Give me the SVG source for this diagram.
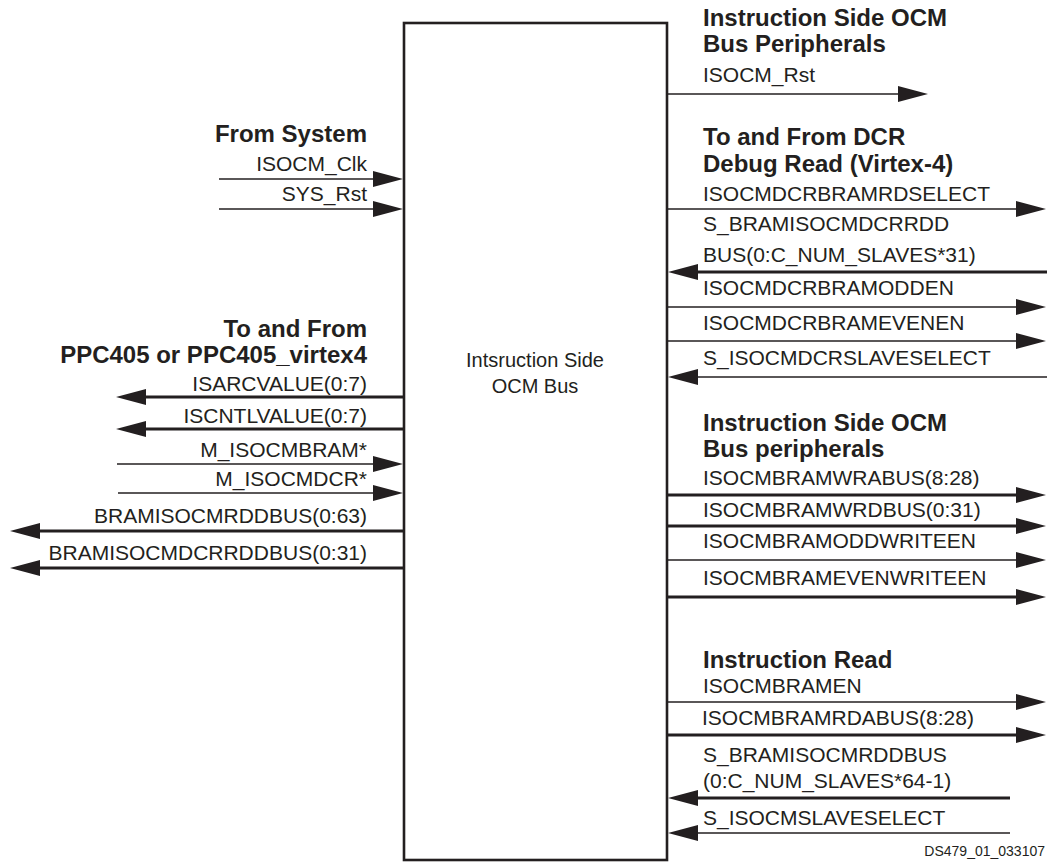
<svg xmlns="http://www.w3.org/2000/svg" width="1047" height="865" viewBox="0 0 1047 865">
<style>
text{font-family:"Liberation Sans",Arial,sans-serif;fill:#231f20}
.h{font-size:24px;font-weight:bold}
.l{font-size:21px}
.le{font-size:21px;text-anchor:end}
.c{font-size:20px;text-anchor:middle}
.s{font-size:14px;text-anchor:end}
.thin{stroke:#231f20;stroke-width:1.6;fill:none;marker-end:url(#ah)}
.thick{stroke:#231f20;stroke-width:3.2;fill:none;marker-end:url(#ah)}
</style>
<defs>
<marker id="ah" markerUnits="userSpaceOnUse" markerWidth="30" markerHeight="16" viewBox="0 0 30 16" refX="20" refY="8" orient="auto">
<path d="M0,0 L30,8 L0,16 z" fill="#231f20"/>
</marker>
</defs>
<rect width="1047" height="865" fill="#fff"/>
<g id="ocm-bus">
<rect x="404" y="23" width="263" height="837" fill="#fff" stroke="#231f20" stroke-width="2.6"/>
<text class="c" x="535" y="367">Intsruction Side</text>
<text class="c" x="535" y="393">OCM Bus</text>
</g>
<g id="from-system">
<text class="h" x="367" y="142" text-anchor="end">From System</text>
<text class="le" x="367" y="171">ISOCM_Clk</text>
<text class="le" x="367" y="201">SYS_Rst</text>
</g>
<g id="ppc405">
<text class="h" x="367" y="337" text-anchor="end">To and From</text>
<text class="h" x="367" y="363" text-anchor="end">PPC405 or PPC405_virtex4</text>
<text class="le" x="367" y="391">ISARCVALUE(0:7)</text>
<text class="le" x="367" y="423">ISCNTLVALUE(0:7)</text>
<text class="le" x="367" y="457">M_ISOCMBRAM*</text>
<text class="le" x="367" y="486">M_ISOCMDCR*</text>
<text class="le" x="367" y="523">BRAMISOCMRDDBUS(0:63)</text>
<text class="le" x="367" y="560">BRAMISOCMDCRRDDBUS(0:31)</text>
</g>
<g id="peripherals-rst">
<text class="h" x="703" y="26">Instruction Side OCM</text>
<text class="h" x="703" y="52">Bus Peripherals</text>
<text class="l" x="703" y="82">ISOCM_Rst</text>
</g>
<g id="dcr">
<text class="h" x="703" y="145">To and From DCR</text>
<text class="h" x="703" y="172">Debug Read (Virtex-4)</text>
<text class="l" x="703" y="201">ISOCMDCRBRAMRDSELECT</text>
<text class="l" x="703" y="231">S_BRAMISOCMDCRRDD</text>
<text class="l" x="703" y="262">BUS(0:C_NUM_SLAVES*31)</text>
<text class="l" x="703" y="295">ISOCMDCRBRAMODDEN</text>
<text class="l" x="703" y="330">ISOCMDCRBRAMEVENEN</text>
<text class="l" x="703" y="365">S_ISOCMDCRSLAVESELECT</text>
</g>
<g id="peripherals-write">
<text class="h" x="703" y="431">Instruction Side OCM</text>
<text class="h" x="703" y="457">Bus peripherals</text>
<text class="l" x="703" y="485">ISOCMBRAMWRABUS(8:28)</text>
<text class="l" x="703" y="517">ISOCMBRAMWRDBUS(0:31)</text>
<text class="l" x="703" y="548">ISOCMBRAMODDWRITEEN</text>
<text class="l" x="703" y="585">ISOCMBRAMEVENWRITEEN</text>
</g>
<g id="instruction-read">
<text class="h" x="703" y="668">Instruction Read</text>
<text class="l" x="703" y="693">ISOCMBRAMEN</text>
<text class="l" x="702" y="725">ISOCMBRAMRDABUS(8:28)</text>
<text class="l" x="703" y="762">S_BRAMISOCMRDDBUS</text>
<text class="l" x="703" y="788">(0:C_NUM_SLAVES*64-1)</text>
<text class="l" x="703" y="825">S_ISOCMSLAVESELECT</text>
</g>
<g id="connectors">
<line class="thin" x1="219" y1="179" x2="393" y2="179"/>
<line class="thin" x1="219" y1="209" x2="393" y2="209"/>
<line class="thick" x1="404" y1="397" x2="126" y2="397"/>
<line class="thick" x1="404" y1="429" x2="126" y2="429"/>
<line class="thin" x1="117" y1="464" x2="393" y2="464"/>
<line class="thin" x1="118" y1="493" x2="393" y2="493"/>
<line class="thick" x1="404" y1="531" x2="20" y2="531"/>
<line class="thick" x1="404" y1="568" x2="20" y2="568"/>
<line class="thin" x1="667" y1="94" x2="918" y2="94"/>
<line class="thin" x1="667" y1="209" x2="1036" y2="209"/>
<line class="thick" x1="1047" y1="272" x2="678" y2="272"/>
<line class="thin" x1="667" y1="307" x2="1036" y2="307"/>
<line class="thin" x1="667" y1="341" x2="1036" y2="341"/>
<line class="thin" x1="1047" y1="377" x2="678" y2="377"/>
<line class="thick" x1="667" y1="495" x2="1036" y2="495"/>
<line class="thick" x1="667" y1="526" x2="1036" y2="526"/>
<line class="thin" x1="667" y1="560" x2="1036" y2="560"/>
<line class="thick" x1="667" y1="597" x2="1036" y2="597"/>
<line class="thin" x1="667" y1="702" x2="1036" y2="702"/>
<line class="thick" x1="667" y1="735" x2="1036" y2="735"/>
<line class="thick" x1="1010" y1="798" x2="678" y2="798"/>
<line class="thin" x1="1010" y1="833" x2="678" y2="833"/>
</g>
<text class="s" x="1045" y="856">DS479_01_033107</text>
</svg>
